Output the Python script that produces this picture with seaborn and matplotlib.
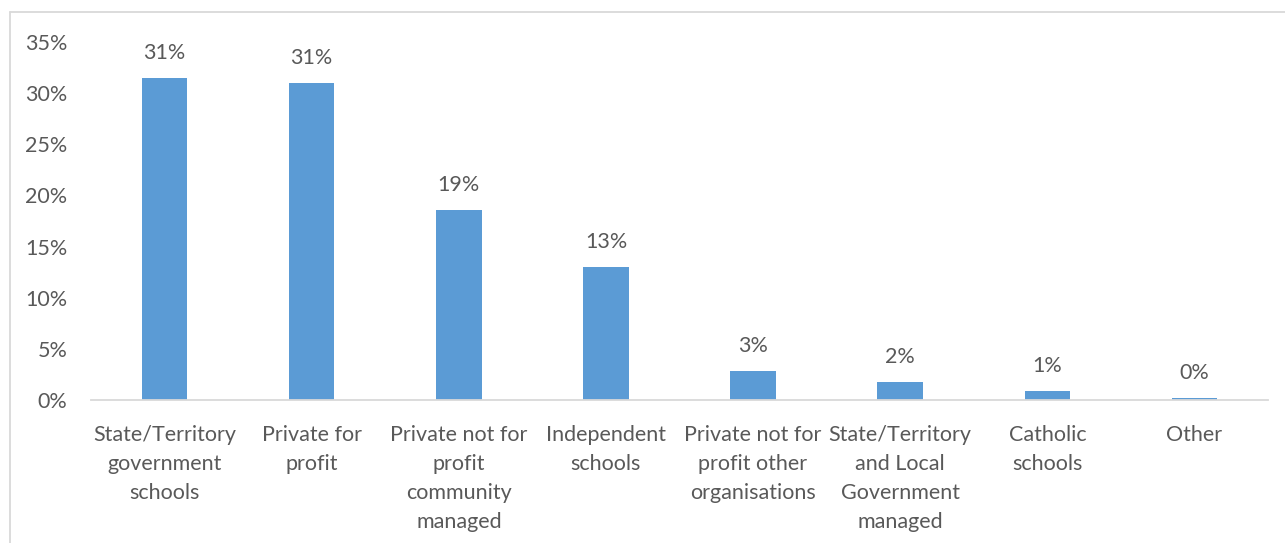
import matplotlib
matplotlib.use("Agg")
import matplotlib.pyplot as plt
import seaborn as sns
import pandas as pd
from matplotlib.ticker import FuncFormatter, MultipleLocator

categories = [
    "State/Territory\ngovernment\nschools",
    "Private for\nprofit",
    "Private not for\nprofit\ncommunity\nmanaged",
    "Independent\nschools",
    "Private not for\nprofit other\norganisations",
    "State/Territory\nand Local\nGovernment\nmanaged",
    "Catholic\nschools",
    "Other",
]
values = [31.45, 31.0, 18.55, 13.0, 2.85, 1.8, 0.9, 0.15]

df = pd.DataFrame({"category": categories, "value": values})

sns.set_theme(style="white")
plt.rcParams["font.family"] = ["Lato", "DejaVu Sans"]

TEXT = "#595959"
GRID = "#d9d9d9"
BAR = "#5b9bd5"
FS = 15.5

fig = plt.figure(figsize=(12.85, 5.43), dpi=100)
ax = fig.add_axes([91 / 1285, 1 - 400 / 543, (1268 - 91) / 1285, (400 - 42) / 543])

sns.barplot(data=df, x="category", y="value", color=BAR, width=0.31,
            saturation=1, ax=ax, edgecolor=BAR, linewidth=0)

ax.set_ylim(0, 35)
ax.set_xlim(-0.5, len(categories) - 0.5)
ax.yaxis.set_major_locator(MultipleLocator(5))
ax.yaxis.set_major_formatter(FuncFormatter(lambda v, p: f"{v:.0f}%"))
ax.set_xlabel("")
ax.set_ylabel("")

for s in ["top", "right", "left"]:
    ax.spines[s].set_visible(False)
ax.spines["bottom"].set_color(GRID)
ax.spines["bottom"].set_linewidth(1.3)

ax.tick_params(axis="y", length=0, pad=17, labelsize=FS, labelcolor=TEXT)
ax.tick_params(axis="x", length=0, pad=18, labelsize=FS, labelcolor=TEXT)

for i, v in enumerate(values):
    ax.annotate(f"{int(v + 0.5)}%", xy=(i, v), xytext=(0, 18), textcoords="offset points",
                ha="center", va="center", fontsize=FS, color=TEXT)

# outer chart frame (left and top edges visible)
fig.add_artist(plt.Line2D([10 / 1285, 10 / 1285], [0, 1 - 12 / 543], transform=fig.transFigure,
                          color=GRID, linewidth=1.3))
fig.add_artist(plt.Line2D([10 / 1285, 1], [1 - 12 / 543, 1 - 12 / 543], transform=fig.transFigure,
                          color=GRID, linewidth=1.3))

fig.canvas.draw()
for lab in ax.get_xticklabels():
    lab.set_linespacing(1.56)

fig.savefig("out.png", dpi=100, facecolor="white")
